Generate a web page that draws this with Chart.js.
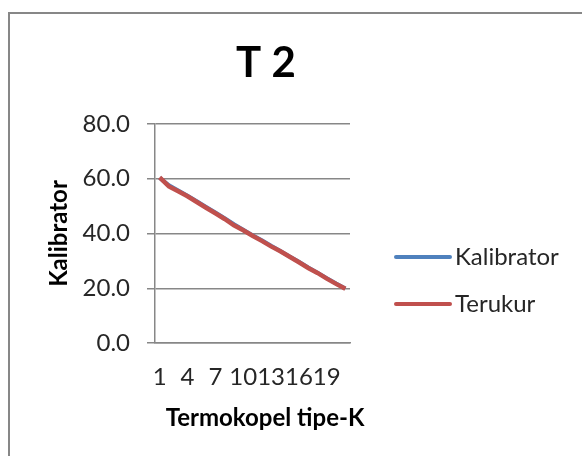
<!DOCTYPE html>
<html>
<head>
<meta charset="utf-8">
<script src="https://cdn.jsdelivr.net/npm/chart.js@4.4.1/dist/chart.umd.min.js"></script>
<style>
  html, body { margin: 0; padding: 0; background: #fff; }
  #wrap { position: relative; width: 582px; height: 456px; }
</style>
</head>
<body>
<div id="wrap"><canvas id="chart" width="582" height="456"></canvas></div>
<script>
// DONNÉES DU GRAPHIQUE
const titre = "T 2";
const titreX = "Termokopel tipe-K";
const titreY = "Kalibrator";
const labels = ["1","2","3","4","5","6","7","8","9","10","11","12","13","14","15","16","17","18","19","20","21"];
const kalibrator = [60.3, 57.6, 55.7, 53.8, 51.8, 49.7, 47.7, 45.6, 43.4, 41.4, 39.4, 37.5, 35.5, 33.6, 31.6, 29.7, 27.6, 25.7, 23.7, 21.7, 19.9];
const terukur    = [60.5, 57.2, 55.4, 53.6, 51.5, 49.4, 47.4, 45.3, 43.0, 41.2, 39.2, 37.3, 35.3, 33.5, 31.5, 29.5, 27.4, 25.6, 23.5, 21.6, 19.8];
const yTicks = [0, 20, 40, 60, 80];

const BLEU = '#4F81BD';
const ROUGE = '#C0504D';
const GRIS = '#878787';
const POLICE = 'Lato, "Open Sans", sans-serif';

// CADRE, TITRES ET LÉGENDE
const decorPlugin = {
    id: 'decor',
    beforeDraw(chart) {
        const ctx = chart.ctx;
        ctx.save();
        ctx.strokeStyle = GRIS;
        ctx.lineWidth = 2;
        ctx.beginPath();
        ctx.moveTo(9, 460);
        ctx.lineTo(9, 13);
        ctx.lineTo(590, 13);
        ctx.stroke();
        ctx.restore();
    },
    afterDraw(chart) {
        const ctx = chart.ctx;
        ctx.save();
        ctx.fillStyle = '#000';
        ctx.font = 'bold 42px ' + POLICE;
        ctx.textAlign = 'center';
        ctx.textBaseline = 'alphabetic';
        ctx.fillText(titre, 266, 77);

        ctx.font = 'bold 24px ' + POLICE;
        ctx.fillText(titreX, 265, 426);

        const items = [
            { label: chart.data.datasets[0].label, color: chart.data.datasets[0].borderColor, y: 257 },
            { label: chart.data.datasets[1].label, color: chart.data.datasets[1].borderColor, y: 304 }
        ];
        ctx.font = '24px ' + POLICE;
        ctx.textAlign = 'left';
        ctx.textBaseline = 'middle';
        items.forEach(it => {
            ctx.strokeStyle = it.color;
            ctx.lineWidth = 4;
            ctx.lineCap = 'round';
            ctx.beginPath();
            ctx.moveTo(396, it.y);
            ctx.lineTo(450, it.y);
            ctx.stroke();
            ctx.fillStyle = '#262626';
            ctx.fillText(it.label, 455, it.y);
        });
        ctx.restore();
    }
};

new Chart(document.getElementById('chart'), {
    type: 'line',
    data: {
        labels: labels,
        datasets: [
            { label: 'Kalibrator', data: kalibrator, borderColor: BLEU, borderWidth: 4, pointRadius: 0, tension: 0, order: 1 },
            { label: 'Terukur', data: terukur, borderColor: ROUGE, borderWidth: 4.5, pointRadius: 0, tension: 0, order: 0 }
        ]
    },
    options: {
        responsive: false,
        animation: false,
        layout: { padding: { left: 0, right: 232, top: 124, bottom: 0 } },
        plugins: { legend: { display: false }, title: { display: false }, tooltip: { enabled: false } },
        scales: {
            x: {
                type: 'category',
                offset: true,
                grid: { display: false, drawTicks: false },
                border: { display: true, color: GRIS, width: 1.5 },
                ticks: {
                    autoSkip: false,
                    maxRotation: 0,
                    padding: 20,
                    color: '#262626',
                    font: { family: POLICE, size: 24 },
                    callback: (v, i) => (i % 3 === 0 ? labels[i] : '')
                },
                afterFit: s => { s.height = 456 - 343; }
            },
            y: {
                min: 0,
                max: 80,
                afterBuildTicks: s => { s.ticks = yTicks.map(v => ({ value: v })); },
                grid: { color: GRIS, lineWidth: 1.5, tickLength: 8 },
                border: { display: true, color: GRIS, width: 1.5 },
                ticks: {
                    padding: 17,
                    color: '#262626',
                    font: { family: POLICE, size: 24 },
                    callback: v => v.toFixed(1)
                },
                title: { display: true, text: titreY, color: '#000', font: { family: POLICE, size: 24, weight: 'bold' }, padding: { top: 45, bottom: 0 } },
                afterFit: s => { s.width = 155; }
            }
        }
    },
    plugins: [decorPlugin]
});
</script>
</body>
</html>
